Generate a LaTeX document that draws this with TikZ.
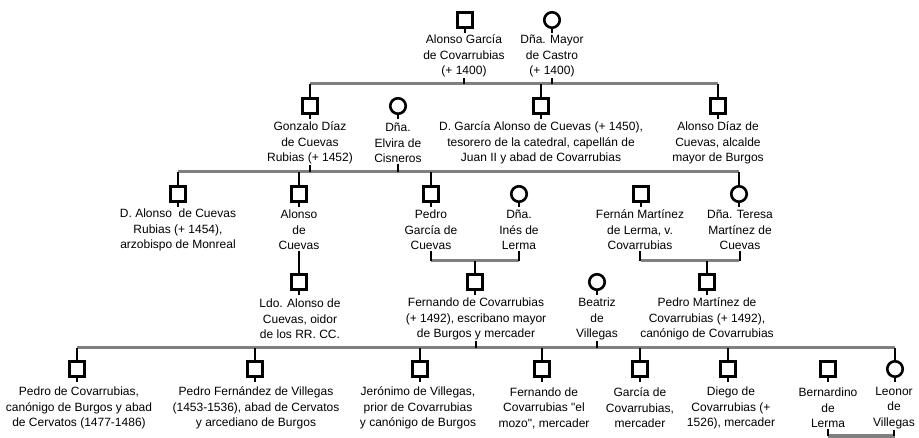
\documentclass[tikz,border=0pt]{standalone}
\usepackage{fontspec}
\setmainfont{Liberation Sans}
\tikzset{
  varon/.style={draw,line width=2.6pt,minimum size=15.5pt,inner sep=0pt},
  mujer/.style={varon,circle},
  nombre/.style={align=center,inner sep=1pt,font={\fontsize{12}{15.5}\selectfont}},
  rama/.style={line width=3pt,gray},
  enlace/.style={line width=2.6pt}
}
\begin{document}
\begin{tikzpicture}[x=1pt,y=-1pt]
\useasboundingbox (0,0) rectangle (919,438);
% generation 1
\node[varon] (alonso) at (465,20) {};
\node[mujer] (mayor) at (552,20) {};
\node[nombre] (alonso-t) at (464,56) {Alonso García\\de Covarrubias\\(+ 1400)};
\node[nombre] (mayor-t) at (552,56) {Dña. Mayor\\de Castro\\(+ 1400)};
% generation 2
\node[varon] (gonzalo) at (310,106) {};
\node[mujer] (elvira) at (398,106) {};
\node[varon] (garcia) at (541,106) {};
\node[varon] (alonsodiaz) at (718,106) {};
\node[nombre] (gonzalo-t) at (310,143) {Gonzalo Díaz\\de Cuevas\\Rubias (+ 1452)};
\node[nombre] (elvira-t) at (398,143) {Dña.\\Elvira de\\Cisneros};
\node[nombre] (garcia-t) at (541,143) {D. García Alonso de Cuevas (+ 1450),\\tesorero de la catedral, capellán de\\Juan II y abad de Covarrubias};
\node[nombre] (alonsodiaz-t) at (718,143) {Alonso Díaz de\\Cuevas, alcalde\\mayor de Burgos};
% generation 3
\node[varon] (dalonso) at (178,194) {};
\node[varon] (alonsoc) at (299,194) {};
\node[varon] (pedrog) at (431,194) {};
\node[mujer] (ines) at (519,194) {};
\node[varon] (fernan) at (641,194) {};
\node[mujer] (teresa) at (739,194) {};
\node[nombre] (dalonso-t) at (178,230) {D. Alonso~ de Cuevas\\Rubias (+ 1454),\\arzobispo de Monreal};
\node[nombre] (alonsoc-t) at (299,230) {Alonso\\de\\Cuevas};
\node[nombre] (pedrog-t) at (431,230) {Pedro\\García de\\Cuevas};
\node[nombre] (ines-t) at (519,230) {Dña.\\Inés de\\Lerma};
\node[nombre] (fernan-t) at (640,230) {Fernán Martínez\\de Lerma, v.\\Covarrubias};
\node[nombre] (teresa-t) at (740,230) {Dña. Teresa\\Martínez de\\Cuevas};
% generation 4
\node[varon] (ldo) at (299,282) {};
\node[varon] (fernando) at (475,282) {};
\node[mujer] (beatriz) at (597,282) {};
\node[varon] (pedrom) at (707,282) {};
\node[nombre] (ldo-t) at (300,319) {Ldo. Alonso de\\Cuevas, oidor\\de los RR. CC.};
\node[nombre] (fernando-t) at (476,319) {Fernando de Covarrubias\\(+ 1492), escribano mayor\\de Burgos y mercader};
\node[nombre] (beatriz-t) at (597,319) {Beatriz\\de\\Villegas};
\node[nombre] (pedrom-t) at (707,319) {Pedro Martínez de\\Covarrubias (+ 1492),\\canónigo de Covarrubias};
% generation 5
\node[varon] (pedroc) at (77,369) {};
\node[varon] (pedrof) at (255,369) {};
\node[varon] (jeronimo) at (420,369) {};
\node[varon] (fernandoh) at (542,369) {};
\node[varon] (garciah) at (640,369) {};
\node[varon] (diego) at (728,369) {};
\node[varon] (bernardino) at (828,369) {};
\node[mujer] (leonor) at (895,369) {};
\node[nombre] (pedroc-t) at (79,408) {Pedro de Covarrubias,\\canónigo de Burgos y abad\\de Cervatos (1477-1486)};
\node[nombre] (pedrof-t) at (256,408) {Pedro Fernández de Villegas\\(1453-1536), abad de Cervatos\\y arcediano de Burgos};
\node[nombre] (jeronimo-t) at (418,408) {Jerónimo de Villegas,\\prior de Covarrubias\\y canónigo de Burgos};
\node[nombre] (fernandoh-t) at (544,408) {Fernando de\\Covarrubias \textquotedbl el\\mozo\textquotedbl, mercader};
\node[nombre] (garciah-t) at (640,408) {García de\\Covarrubias,\\mercader};
\node[nombre] (diego-t) at (731,408) {Diego de\\Covarrubias (+\\1526), mercader};
\node[nombre] (bernardino-t) at (828,408) {Bernardino\\de\\Lerma};
\node[nombre] (leonor-t) at (894,408) {Leonor\\de\\Villegas};
% family lines
\coordinate (r1) at (0,84);
\coordinate (r2) at (0,172);
\coordinate (r3) at (0,261);
\coordinate (r4) at (0,348);
\coordinate (r5) at (0,436);
\draw[rama] (gonzalo |- r1) -- (alonsodiaz |- r1);
\draw[rama] (dalonso |- r2) -- (teresa |- r2);
\draw[rama] (pedrog |- r3) -- (ines |- r3);
\draw[rama] (fernan |- r3) -- (teresa |- r3);
\draw[rama] (pedroc |- r4) -- (leonor |- r4);
\draw[rama] (bernardino |- r5) -- (leonor |- r5);
% stubs under the symbols
\foreach \s in {alonso,mayor,gonzalo,elvira,garcia,alonsodiaz,dalonso,alonsoc,pedrog,ines,fernan,teresa,ldo,fernando,beatriz,pedrom,pedroc,pedrof,jeronimo,fernandoh,garciah,diego,bernardino,leonor}
  \draw[enlace] (\s.south) -- ++(0,4);
% parents down to their line
\foreach \t/\r in {alonso-t/r1,mayor-t/r1,gonzalo-t/r2,elvira-t/r2,pedrog-t/r3,ines-t/r3,fernan-t/r3,teresa-t/r3,fernando-t/r4,beatriz-t/r4,bernardino-t/r5,leonor-t/r5}
  \draw[enlace] (\t.south) -- (\t.south |- \r);
% children up to their line
\foreach \s/\r in {gonzalo/r1,garcia/r1,alonsodiaz/r1,dalonso/r2,alonsoc/r2,pedrog/r2,teresa/r2,fernando/r3,pedrom/r3,pedroc/r4,pedrof/r4,jeronimo/r4,fernandoh/r4,garciah/r4,diego/r4,leonor/r4}
  \draw[enlace] (\s.north) -- (\s.north |- \r);
\draw[enlace] (ldo.north) -- (ldo.north |- alonsoc-t.south);
\end{tikzpicture}
\end{document}
